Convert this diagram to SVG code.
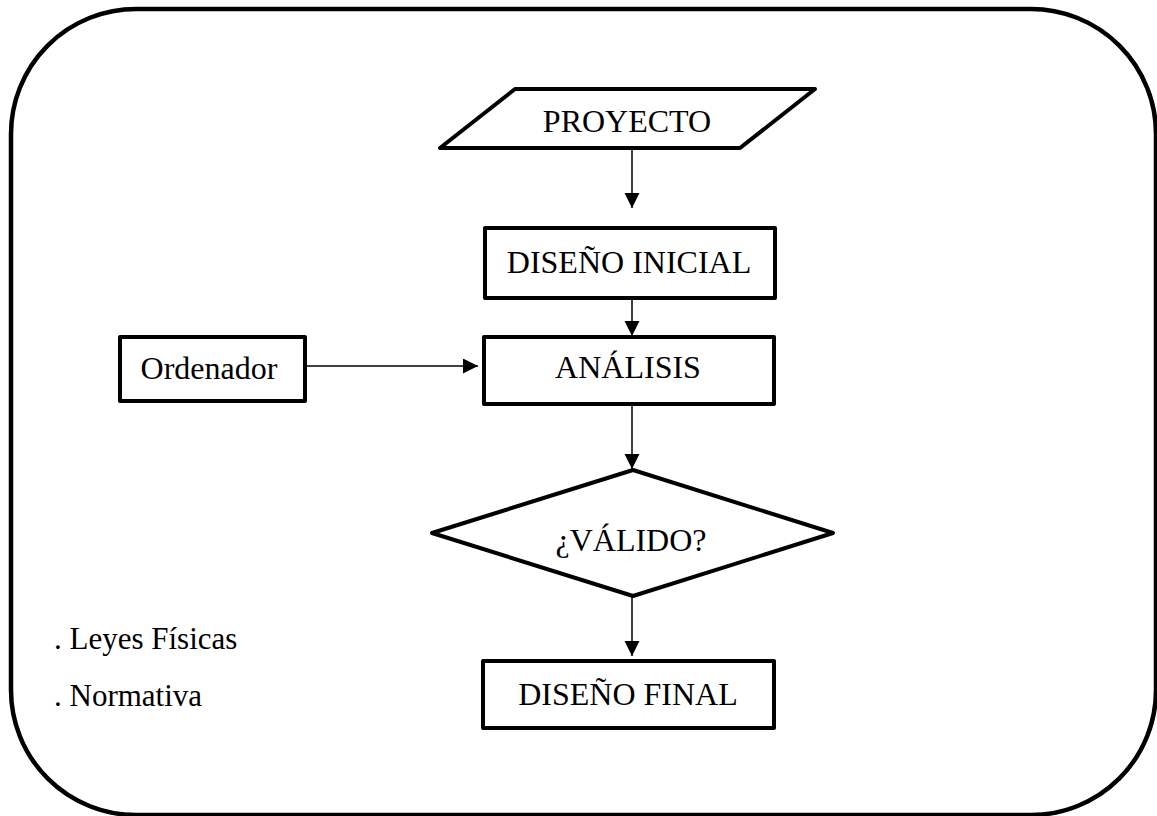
<svg xmlns="http://www.w3.org/2000/svg" width="1157" height="816" viewBox="0 0 1157 816">
<style>
.shape{fill:#fff;stroke:#000;stroke-width:4;stroke-linejoin:round}
.conn{fill:none;stroke:#000;stroke-width:1.5}
.t{font-family:"Liberation Serif","Times New Roman",serif;font-size:32px;fill:#000;text-anchor:middle}
.l{font-family:"Liberation Serif","Times New Roman",serif;font-size:31px;fill:#000}
</style>
<defs>
<marker id="ah" markerUnits="userSpaceOnUse" markerWidth="16" markerHeight="16" refX="15" refY="7.5" orient="auto">
<path d="M0,0 L15,7.5 L0,15 Z" fill="#000"/>
</marker>
</defs>
<rect x="11" y="9" width="1145" height="806" rx="125" ry="125" fill="#fff" stroke="#000" stroke-width="4.5"/>
<g id="connectors">
<line class="conn" x1="632" y1="149" x2="632" y2="208" marker-end="url(#ah)"/>
<line class="conn" x1="632" y1="277" x2="632" y2="336" marker-end="url(#ah)"/>
<line class="conn" x1="305" y1="366" x2="478" y2="366" marker-end="url(#ah)"/>
<line class="conn" x1="632" y1="405" x2="632" y2="469" marker-end="url(#ah)"/>
<line class="conn" x1="632" y1="596" x2="632" y2="656" marker-end="url(#ah)"/>
</g>
<g id="proyecto">
<polygon class="shape" points="515,89 815,89 740,148 440,148"/>
<text class="t" x="627" y="132">PROYECTO</text>
</g>
<g id="diseno-inicial">
<rect class="shape" x="485" y="228" width="290" height="70"/>
<text class="t" x="629" y="273">DISEÑO INICIAL</text>
</g>
<g id="analisis">
<rect class="shape" x="484" y="337" width="290" height="67"/>
<text class="t" x="628" y="378">ANÁLISIS</text>
</g>
<g id="ordenador">
<rect class="shape" x="120" y="337" width="185" height="64"/>
<text class="t" x="209" y="379">Ordenador</text>
</g>
<g id="valido">
<polygon class="shape" points="633,470 833,533 633,596 432,533"/>
<text class="t" x="631" y="551">¿VÁLIDO?</text>
</g>
<g id="diseno-final">
<rect class="shape" x="483" y="661" width="291" height="67"/>
<text class="t" x="628" y="705">DISEÑO FINAL</text>
</g>
<g id="notes">
<text class="l" x="54" y="649">. Leyes Físicas</text>
<text class="l" x="54" y="706">. Normativa</text>
</g>
</svg>
